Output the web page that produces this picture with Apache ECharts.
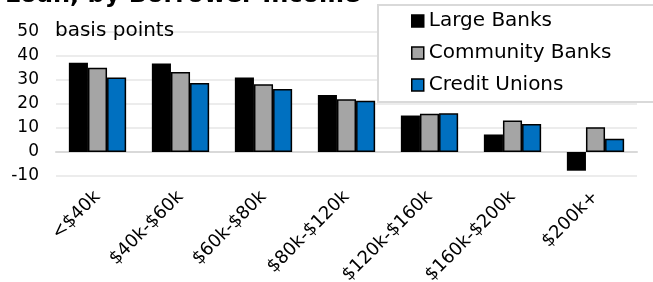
<!DOCTYPE html>
<html>
<head>
<meta charset="utf-8">
<script src="https://cdn.jsdelivr.net/npm/echarts@6/dist/echarts.min.js"></script>
<style>
  html, body { margin: 0; padding: 0; background: #fff; }
  #chart { width: 653px; height: 282px; }
</style>
</head>
<body>
<div id="chart"></div>
<script>
var categories = ['<$40k', '$40k-$60k', '$60k-$80k', '$80k-$120k', '$120k-$160k', '$160k-$200k', '$200k+'];
var largeBanks = [37.2, 36.9, 31.0, 23.8, 15.2, 7.3, -7.8];
var communityBanks = [35.1, 33.3, 28.2, 22.0, 15.9, 13.1, 10.3];
var creditUnions = [31.0, 28.8, 26.2, 21.4, 16.1, 11.7, 5.5];
var yTicks = [-10, 50, 10];

var font = 'DejaVu Sans';
var chart = echarts.init(document.getElementById('chart'));

function barSeries(name, values, color, border) {
  return {
    name: name,
    type: 'bar',
    data: values,
    barGap: '0%',
    barCategoryGap: '31%',
    itemStyle: {
      color: color,
      borderColor: '#000',
      borderWidth: border
    }
  };
}

chart.setOption({
  animation: false,
  title: {
    text: 'Loan, by Borrower Income',
    left: 0,
    top: -21,
    textStyle: { fontFamily: font, fontWeight: 'bold', fontSize: 24, color: '#000' }
  },
  legend: {
    orient: 'vertical',
    left: 378,
    top: 5,
    width: 320,
    height: 96,
    padding: [5, 160, 6, 33],
    backgroundColor: '#fff',
    borderColor: '#d9d9d9',
    borderWidth: 2,
    itemWidth: 12,
    itemHeight: 12,
    itemGap: 10,
    icon: 'rect',
    itemStyle: { borderColor: '#000', borderWidth: 1.5 },
    textStyle: { fontFamily: font, fontSize: 20, color: '#000', lineHeight: 22 },
    data: ['Large Banks', 'Community Banks', 'Credit Unions']
  },
  graphic: [{
    type: 'text',
    left: 55,
    top: 21,
    z: 10,
    style: { text: 'basis points', font: '20px ' + font, fill: '#000' }
  }],
  grid: {
    left: 56, right: 16, top: 32, bottom: 106,
    containLabel: false,
    outerBoundsMode: 'none'
  },
  xAxis: {
    type: 'category',
    data: categories,
    axisLine: { onZero: true, lineStyle: { color: '#d9d9d9', width: 2 } },
    axisTick: { show: false },
    axisLabel: {
      rotate: 45,
      interval: 0,
      fontFamily: font,
      fontSize: 18,
      color: '#000',
      margin: 18
    }
  },
  yAxis: {
    type: 'value',
    min: yTicks[0],
    max: yTicks[1],
    interval: yTicks[2],
    axisLine: { show: false },
    axisTick: { show: false },
    splitLine: { lineStyle: { color: '#ececec', width: 2 } },
    axisLabel: { fontFamily: font, fontSize: 17, color: '#000', margin: 17 }
  },
  series: [
    barSeries('Large Banks', largeBanks, '#000', 0),
    barSeries('Community Banks', communityBanks, '#a5a5a5', 1.5),
    barSeries('Credit Unions', creditUnions, '#0070c0', 1.5)
  ]
});
</script>
</body>
</html>
